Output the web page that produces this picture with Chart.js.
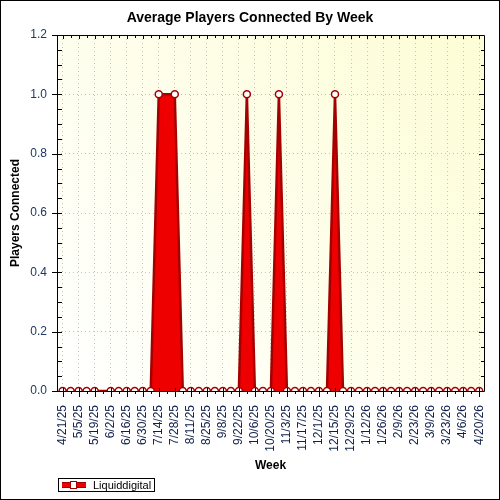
<!DOCTYPE html>
<html>
<head>
<meta charset="utf-8">
<script src="https://cdn.jsdelivr.net/npm/chart.js@4/dist/chart.umd.min.js"></script>
<style>
	html, body { margin: 0; padding: 0; background: #fff; }
	#wrap { width: 500px; height: 500px; }
</style>
</head>
<body>
<div id="wrap"><canvas id="playersChart" width="500" height="500"></canvas></div>
<script>
// Average Players Connected By Week

const chartTitle = 'Average Players Connected By Week';
const seriesName = 'Liquiddigital';

const weekLabels = [
	'4/21/25', '4/28/25', '5/5/25', '5/12/25', '5/19/25', '5/26/25', '6/2/25', '6/9/25',
	'6/16/25', '6/23/25', '6/30/25', '7/7/25', '7/14/25', '7/21/25', '7/28/25', '8/4/25',
	'8/11/25', '8/18/25', '8/25/25', '9/1/25', '9/8/25', '9/15/25', '9/22/25', '9/29/25',
	'10/6/25', '10/13/25', '10/20/25', '10/27/25', '11/3/25', '11/10/25', '11/17/25', '11/24/25',
	'12/1/25', '12/8/25', '12/15/25', '12/22/25', '12/29/25', '1/5/26', '1/12/26', '1/19/26',
	'1/26/26', '2/2/26', '2/9/26', '2/16/26', '2/23/26', '3/2/26', '3/9/26', '3/16/26',
	'3/23/26', '3/30/26', '4/6/26', '4/13/26', '4/20/26'
];

// null = no reading that week
const playersConnected = [
	0, 0, 0, 0, 0, null, 0, 0,
	0, 0, 0, 0, 1, null, 1, 0,
	0, 0, 0, 0, 0, 0, 0, 1,
	0, 0, 0, 1, 0, 0, 0, 0,
	0, 0, 1, 0, 0, 0, 0, 0,
	0, 0, 0, 0, 0, 0, 0, 0,
	0, 0, 0, 0, 0
];

const yTicks = [0, 0.2, 0.4, 0.6, 0.8, 1.0, 1.2];

const lineColor = '#A40000';
const fillColor = '#EE0000';
const labelBlue = '#1F3864';
const fontFamily = '"Liberation Sans", Arial, sans-serif';

// plot background, frame, minor ticks, titles and legend
const decorPlugin = {
	id: 'decor',
	beforeDraw(chart) {
		const { ctx, chartArea: a } = chart;
		ctx.save();
		ctx.fillStyle = '#fff';
		ctx.fillRect(0, 0, chart.width, chart.height);
		const g = ctx.createLinearGradient(a.left, a.bottom, a.right, a.top);
		g.addColorStop(0, '#FFFFFF');
		g.addColorStop(1, '#FDFDD6');
		ctx.fillStyle = g;
		ctx.fillRect(a.left, a.top, a.right - a.left, a.bottom - a.top);
		ctx.restore();
	},
	afterDraw(chart) {
		const { ctx, chartArea: a } = chart;
		const xs = chart.scales.x;
		const ys = chart.scales.y;
		ctx.save();
		ctx.strokeStyle = '#000';
		ctx.lineWidth = 1;

		// frame
		ctx.beginPath();
		ctx.moveTo(a.left + 0.5, a.top + 0.5);
		ctx.lineTo(a.right + 0.5, a.top + 0.5);
		ctx.lineTo(a.right + 0.5, a.bottom + 0.5);
		ctx.lineTo(a.left + 0.5, a.bottom + 0.5);
		ctx.closePath();
		ctx.stroke();

		// x ticks (bottom out, top in)
		ctx.beginPath();
		for (let i = 0; i < weekLabels.length; i++) {
			const px = Math.round(xs.getPixelForValue(i)) + 0.5;
			const major = i % 2 === 0;
			ctx.moveTo(px, a.bottom - (major ? 3 : 0));
			ctx.lineTo(px, a.bottom + (major ? 6 : 3));
			ctx.moveTo(px, a.top);
			ctx.lineTo(px, a.top + (major ? 4 : 3));
		}
		// y ticks (left across, right in)
		for (let v = 0; v <= 24; v++) {
			const py = Math.round(ys.getPixelForValue(v * 0.05)) + 0.5;
			const major = v % 4 === 0;
			ctx.moveTo(a.left - (major ? 5 : 0), py);
			ctx.lineTo(a.left + 5, py);
			ctx.moveTo(a.right, py);
			ctx.lineTo(a.right - (major ? 5 : 3), py);
		}
		ctx.stroke();

		// title + axis titles
		ctx.fillStyle = '#000';
		ctx.textAlign = 'center';
		ctx.textBaseline = 'middle';
		ctx.font = 'bold 14px ' + fontFamily;
		ctx.fillText(chartTitle, 250, 18);
		ctx.font = 'bold 12px ' + fontFamily;
		ctx.fillText('Week', (a.left + a.right) / 2, 466);
		ctx.save();
		ctx.translate(16, (a.top + a.bottom) / 2);
		ctx.rotate(-Math.PI / 2);
		ctx.fillText('Players Connected', 0, 0);
		ctx.restore();

		// legend box
		ctx.strokeRect(58.5, 478.5, 96, 13);
		ctx.fillStyle = fillColor;
		ctx.fillRect(62, 482, 24, 6);
		ctx.fillStyle = lineColor;
		ctx.fillRect(62, 482, 24, 1);
		ctx.fillRect(62, 487, 24, 1);
		ctx.fillStyle = '#fff';
		ctx.fillRect(70, 481, 7, 8);
		ctx.strokeStyle = lineColor;
		ctx.strokeRect(70.5, 481.5, 6, 7);
		ctx.fillStyle = '#000';
		ctx.textAlign = 'left';
		ctx.font = '11px ' + fontFamily;
		ctx.fillText(seriesName, 93, 485.5);

		// outer border
		ctx.strokeStyle = '#000';
		ctx.strokeRect(0.5, 0.5, chart.width - 1, chart.height - 1);
		ctx.restore();
	}
};

const ctx = document.getElementById('playersChart').getContext('2d');

new Chart(ctx, {
	type: 'line',
	data: {
		datasets: [{
			label: seriesName,
			data: playersConnected.map((v, i) => ({ x: i, y: v })),
			borderColor: lineColor,
			backgroundColor: fillColor,
			borderWidth: 2.5,
			fill: 'origin',
			tension: 0,
			spanGaps: true,
			clip: 0,
			pointRadius: 3.5,
			pointBorderWidth: 1.5,
			pointBackgroundColor: '#fff',
			pointBorderColor: lineColor
		}]
	},
	plugins: [decorPlugin],
	options: {
		responsive: false,
		animation: false,
		layout: { padding: { left: 0, top: 35, right: 16, bottom: 0 } },
		plugins: {
			legend: { display: false },
			title: { display: false },
			tooltip: { enabled: false }
		},
		scales: {
			x: {
				type: 'linear',
				min: -0.7,
				max: 52.6,
				afterFit: (scale) => {
					scale.height = 109;
					scale.paddingLeft = 0;
					scale.paddingRight = 0;
				},
				afterBuildTicks: (scale) => {
					scale.ticks = weekLabels.map((_, i) => ({ value: i }));
				},
				grid: {
					drawTicks: false,
					color: (c) => (c.tick && c.tick.value % 2 === 0) ? '#C4C4C4' : 'rgba(0,0,0,0)',
					lineWidth: 1
				},
				border: { display: false, dash: [1, 3] },
				ticks: {
					autoSkip: false,
					maxRotation: 90,
					minRotation: 90,
					padding: 14,
					color: '#10204A',
					font: { family: fontFamily, size: 12 },
					callback: (value) => value % 2 === 0 ? weekLabels[value] : ''
				}
			},
			y: {
				min: 0,
				max: 1.2,
				afterFit: (scale) => {
					scale.width = 57;
					scale.paddingTop = 0;
					scale.paddingBottom = 0;
				},
				afterBuildTicks: (scale) => {
					scale.ticks = yTicks.map(v => ({ value: v }));
				},
				grid: { drawTicks: false, color: '#C4C4C4', lineWidth: 1 },
				border: { display: false, dash: [1, 3] },
				ticks: {
					padding: 10,
					color: labelBlue,
					font: { family: fontFamily, size: 12 },
					callback: (value) => Number(value).toFixed(1)
				}
			}
		}
	}
});
</script>
</body>
</html>
